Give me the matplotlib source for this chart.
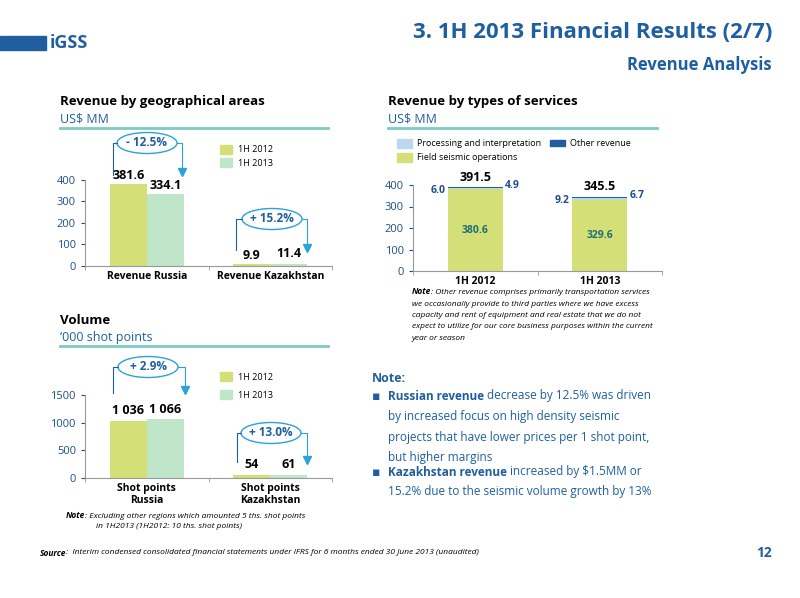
import numpy as np
import matplotlib.pyplot as plt
from matplotlib.patches import Ellipse, Rectangle

plt.rcParams['font.family'] = ['Open Sans', 'DejaVu Sans']

# data
geo_cats = ["Revenue Russia", "Revenue Kazakhstan"]
geo_2012 = [381.6, 9.9]
geo_2013 = [334.1, 11.4]

svc_cats = ["1H 2012", "1H 2013"]
svc_field = [380.6, 329.6]
svc_proc = [6.0, 9.2]
svc_other = [4.9, 6.7]
svc_total = [391.5, 345.5]

vol_cats = ["Shot points\nRussia", "Shot points\nKazakhstan"]
vol_2012 = [1036, 54]
vol_2013 = [1066, 61]
vol_labels_2012 = ["1 036", "54"]
vol_labels_2013 = ["1 066", "61"]

C12 = "#d4df78"
C13 = "#bfe6c9"
BLUE = "#1f5fa0"
TICK = "#1f4e8c"
TEAL = "#7fcbc4"
PROC = "#bcd8ee"

W, H = 800, 598
fig = plt.figure(figsize=(8, 5.98), dpi=100)


def add_ax(x0, y0, x1, y1):
    return fig.add_axes([x0 / W, 1 - y1 / H, (x1 - x0) / W, (y1 - y0) / H])


def style(ax):
    for s in ["top", "right"]:
        ax.spines[s].set_visible(False)
    for s in ["left", "bottom"]:
        ax.spines[s].set_color("#999999")
    ax.tick_params(axis="y", colors=TICK, labelsize=8, length=3)
    ax.tick_params(axis="x", length=0, labelsize=7.5)
    for t in ax.get_xticklabels():
        t.set_fontweight("bold")
    ax.set_xlim(-0.5, 1.5)
    ax.set_xticks([-0.5, 0.5, 1.5], minor=True)
    ax.tick_params(axis="x", which="minor", length=3, color="#999999")


x = np.arange(2)

# chart 1
ax1 = add_ax(85, 180, 332, 266)
ax1.bar(x - 0.15, geo_2012, 0.3, color=C12)
ax1.bar(x + 0.15, geo_2013, 0.3, color=C13)
ax1.set_ylim(0, 400)
ax1.set_yticks([0, 100, 200, 300, 400])
ax1.set_xticks(x, geo_cats)
style(ax1)
for i in range(2):
    ax1.text(x[i] - 0.15, geo_2012[i] + 8, f"{geo_2012[i]:.1f}", ha="center", va="bottom", fontsize=9, fontweight="bold")
    ax1.text(x[i] + 0.15, max(geo_2013[i], 20) + 8, f"{geo_2013[i]:.1f}", ha="center", va="bottom", fontsize=9, fontweight="bold")

# chart 2
ax2 = add_ax(413, 185, 662, 271)
ax2.bar(x, svc_field, 0.44, color=C12)
ax2.bar(x, svc_proc, 0.44, bottom=svc_field, color=PROC)
ax2.bar(x, svc_other, 0.44, bottom=np.add(svc_field, svc_proc), color=BLUE)
ax2.set_ylim(0, 400)
ax2.set_yticks([0, 100, 200, 300, 400])
ax2.set_xticks(x, svc_cats)
style(ax2)
for i in range(2):
    ax2.text(x[i], svc_field[i] / 2, f"{svc_field[i]:.1f}", ha="center", va="center", fontsize=7.5, color="#1f6f6f", fontweight="bold")
    ax2.text(x[i] - 0.24, svc_total[i] - 18, f"{svc_proc[i]:.1f}", ha="right", va="center", fontsize=7.5, color=TICK, fontweight="bold")
    ax2.text(x[i] + 0.24, svc_total[i] + 4, f"{svc_other[i]:.1f}", ha="left", va="center", fontsize=7.5, color=TICK, fontweight="bold")
    ax2.text(x[i], svc_total[i] + 15, f"{svc_total[i]:.1f}", ha="center", va="bottom", fontsize=9, fontweight="bold")

# chart 3
ax3 = add_ax(85, 395, 332, 478)
ax3.bar(x - 0.15, vol_2012, 0.3, color=C12)
ax3.bar(x + 0.15, vol_2013, 0.3, color=C13)
ax3.set_ylim(0, 1500)
ax3.set_yticks([0, 500, 1000, 1500])
ax3.set_xticks(x, vol_cats)
style(ax3)
for i in range(2):
    ax3.text(x[i] - 0.15, max(vol_2012[i], 60) + 60, vol_labels_2012[i], ha="center", va="bottom", fontsize=9, fontweight="bold")
    ax3.text(x[i] + 0.15, max(vol_2013[i], 60) + 60, vol_labels_2013[i], ha="center", va="bottom", fontsize=9, fontweight="bold")

# overlay in pixel coordinates
ov = fig.add_axes([0, 0, 1, 1], zorder=10)
ov.set_xlim(0, W)
ov.set_ylim(H, 0)
ov.axis("off")
ov.patch.set_alpha(0)

# logo
ov.add_patch(Rectangle((0, 36), 46, 14, color=BLUE))
ov.text(50, 43, "iGSS", fontsize=13, fontweight="bold", color=BLUE, va="center", ha="left")

ov.text(772, 33, "3. 1H 2013 Financial Results (2/7)", fontsize=16, fontweight="bold", color=BLUE, ha="right", va="center")
ov.text(772, 65, "Revenue Analysis", fontsize=12, fontweight="bold", color=BLUE, ha="right", va="center")

# section headers
for (hx, hy, title, sub, x1) in [(60, 102, "Revenue by geographical areas", "US$ MM", 328),
                                 (388, 102, "Revenue by types of services", "US$ MM", 657),
                                 (60, 320, "Volume", "\u2018000 shot points", 328)]:
    ov.text(hx, hy, title, fontsize=9.5, fontweight="bold", va="center")
    ov.text(hx, hy + 17, sub, fontsize=9, color=BLUE, va="center")
    ov.plot([hx, x1], [hy + 26, hy + 26], color=TEAL, lw=2)

# legends
for (lx, ly, col, lab) in [(220, 150, C12, "1H 2012"), (220, 163, C13, "1H 2013"),
                           (220, 377, C12, "1H 2012"), (220, 395, C13, "1H 2013")]:
    ov.add_patch(Rectangle((lx, ly - 5), 12, 9, color=col))
    ov.text(lx + 18, ly, lab, fontsize=6.5, va="center")
for (lx, ly, col, lab, h) in [(397, 143, PROC, "Processing and interpretation", 9),
                              (397, 157, C12, "Field seismic operations", 9),
                              (550, 143, BLUE, "Other revenue", 6)]:
    ov.add_patch(Rectangle((lx, ly - h / 2), 15, h, color=col))
    ov.text(lx + 20, ly, lab, fontsize=6.5, va="center")


def bubble(cx, cy, label, xl, xr, yb_l, yb_r):
    ov.plot([xl, xl, cx - 30], [yb_l, cy, cy], color=BLUE, lw=0.8)
    ov.plot([cx + 30, xr, xr], [cy, cy, yb_r], color="#29a3d8", lw=0.8)
    ov.plot([xr], [yb_r], marker="v", color="#29a3d8", ms=6)
    ov.add_patch(Ellipse((cx, cy), 60, 21, fill=False, ec="#29a3d8", lw=1))
    ov.text(cx, cy, label, ha="center", va="center", fontsize=8.5, fontweight="bold", color=BLUE)


bubble(147, 143, "- 12.5%", 113, 182, 175, 172)
bubble(272, 219, "+ 15.2%", 236, 307, 250, 248)
bubble(148, 367, "+ 2.9%", 113, 185, 393, 390)
bubble(271, 433, "+ 13.0%", 237, 307, 462, 460)


def mixed(x0, y0, parts, fs, color="black", style="normal"):
    # parts: list of (text, weight); chained left to right
    prev = None
    for txt, wt in parts:
        if prev is None:
            prev = ov.text(x0, y0, txt, fontsize=fs, fontweight=wt, color=color,
                           fontstyle=style, va="center")
        else:
            prev = ov.annotate(txt, xy=(1, 0.5), xycoords=prev, fontsize=fs, fontweight=wt,
                               color=color, fontstyle=style, va="center", ha="left")


# notes
mixed(412, 292, [("Note", "bold"), (": Other revenue comprises primarily transportation services", "normal")], 6, style="italic")
for k, line in enumerate(["we occasionally provide to third parties where we have excess",
                          "capacity and rent of equipment and real estate that we do not",
                          "expect to utilize for our core business purposes within the current",
                          "year or season"]):
    ov.text(412, 304 + 11.5 * k, line, fontsize=6, fontstyle="italic", va="center")

mixed(66, 516, [("Note", "bold"), (": Excluding other regions which amounted 5 ths. shot points", "normal")], 6, style="italic")
ov.text(96, 527, "in 1H2013 (1H2012: 10 ths. shot points)", fontsize=6, fontstyle="italic", va="center")

FS = 8.5
ov.text(372, 378, "Note:", fontsize=9, fontweight="bold", color=BLUE, va="center")
ov.text(372, 396, "\u25aa", fontsize=9, color=BLUE, va="center")
mixed(388, 396, [("Russian revenue", "bold"), (" decrease by 12.5% was driven", "normal")], FS, color=BLUE)
for k, line in enumerate(["by increased focus on high density seismic",
                          "projects that have lower prices per 1 shot point,",
                          "but higher margins"]):
    ov.text(388, 416.5 + 20.5 * k, line, fontsize=FS, color=BLUE, va="center")
ov.text(372, 472, "\u25aa", fontsize=9, color=BLUE, va="center")
mixed(388, 472, [("Kazakhstan revenue", "bold"), (" increased by $1.5MM or", "normal")], FS, color=BLUE)
ov.text(388, 491, "15.2% due to the seismic volume growth by 13%", fontsize=FS, color=BLUE, va="center")

mixed(40, 553, [("Source", "bold"), (":  Interim condensed consolidated financial statements under IFRS for 6 months ended 30 June 2013 (unaudited)", "normal")], 6, style="italic")
ov.text(772, 553, "12", fontsize=10, fontweight="bold", color=BLUE, ha="right", va="center")

fig.savefig("out.png", dpi=100)
